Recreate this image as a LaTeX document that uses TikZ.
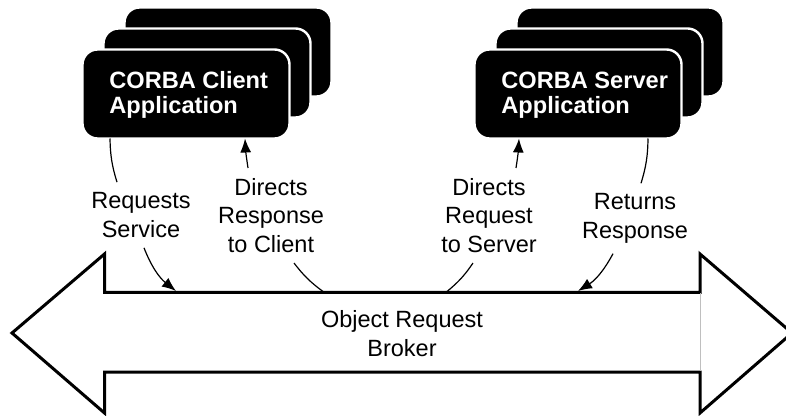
\documentclass[tikz,border=0pt]{standalone}
\usepackage{fontspec}
\setmainfont{Liberation Sans}
\usetikzlibrary{arrows.meta}
\tikzset{app/.style={fill=black, draw=white, line width=1.2pt, rounded corners=7.5pt, minimum width=103.5pt, minimum height=44.5pt, inner sep=0pt, outer sep=0pt}}
\tikzset{appname/.style={text=white, font=\fontsize{11.8pt}{12.5pt}\selectfont\bfseries, align=left, anchor=west, inner sep=0pt}}
\tikzset{msg/.style={font=\fontsize{11.75pt}{14.25pt}\selectfont, align=center, inner sep=5pt}}
\tikzset{link/.style={line width=0.6pt}}
\tikzset{linkto/.style={link, -{Latex[length=7pt,width=5.5pt]}}}

\begin{document}
\begin{tikzpicture}[x=0.5pt, y=-0.5pt]
    \useasboundingbox (0,0) rectangle (786,416);
    %Client stack
    \node[app] (client3) at (228,52) {};
    \node[app] (client2) at (207,73) {};
    \node[app] (client) at (186,94) {};
    \node[appname] (clientname) at (109,95) {CORBA Client\\Application};
    %Server stack
    \node[app] (server3) at (620,52) {};
    \node[app] (server2) at (599,73) {};
    \node[app] (server) at (578,94) {};
    \node[appname] (servername) at (501,95) {CORBA Server\\Application};
    %Broker
    \draw[line width=1.5pt, fill=white] (12,333) -- (104.5,254) -- (104.5,292.5) -- (700,292.5) -- (700,254) -- (792,333)
      -- (700,413) -- (700,372) -- (104.5,372) -- (104.5,413) -- cycle;
    \draw[gray!50, line width=0.3pt] (700,293.5) -- (700,371);
    \node[msg] (orb) at (402,333.5) {Object Request\\Broker};
    \coordinate (b1) at (176,291);
    \coordinate (b2) at (323,291.5);
    \coordinate (b3) at (447,291.5);
    \coordinate (b4) at (578,291);
    %Labels
    \node[msg] (req) at (141,215) {Requests\\Service};
    \node[msg] (resp) at (271,215.5) {Directs\\Response\\to Client};
    \node[msg] (fwd) at (489,215.5) {Directs\\Request\\to Server};
    \node[msg] (ret) at (635,218.5) {Returns\\Response};
    %Links
    \draw[link] ([xshift=-38pt]client.south) to[bend right=8] ([xshift=-12pt]req.north);
    \draw[linkto] ([xshift=1.5pt]req.south) to[bend right=15] (b1);
    \draw[link] (b2) to[bend left=8] ([xshift=11.5pt]resp.south);
    \draw[linkto] ([xshift=-11.5pt]resp.north) to[bend left=3] ([xshift=29.5pt]client.south);
    \draw[link] (b3) to[bend right=8] ([xshift=-8pt]fwd.south);
    \draw[linkto] ([xshift=13.5pt]fwd.north) to[bend right=3] ([xshift=-29.5pt]server.south);
    \draw[link] ([xshift=35pt]server.south) to[bend left=8] ([xshift=3pt]ret.north);
    \draw[linkto] ([xshift=-11pt]ret.south) to[bend left=15] (b4);
\end{tikzpicture}
\end{document}
